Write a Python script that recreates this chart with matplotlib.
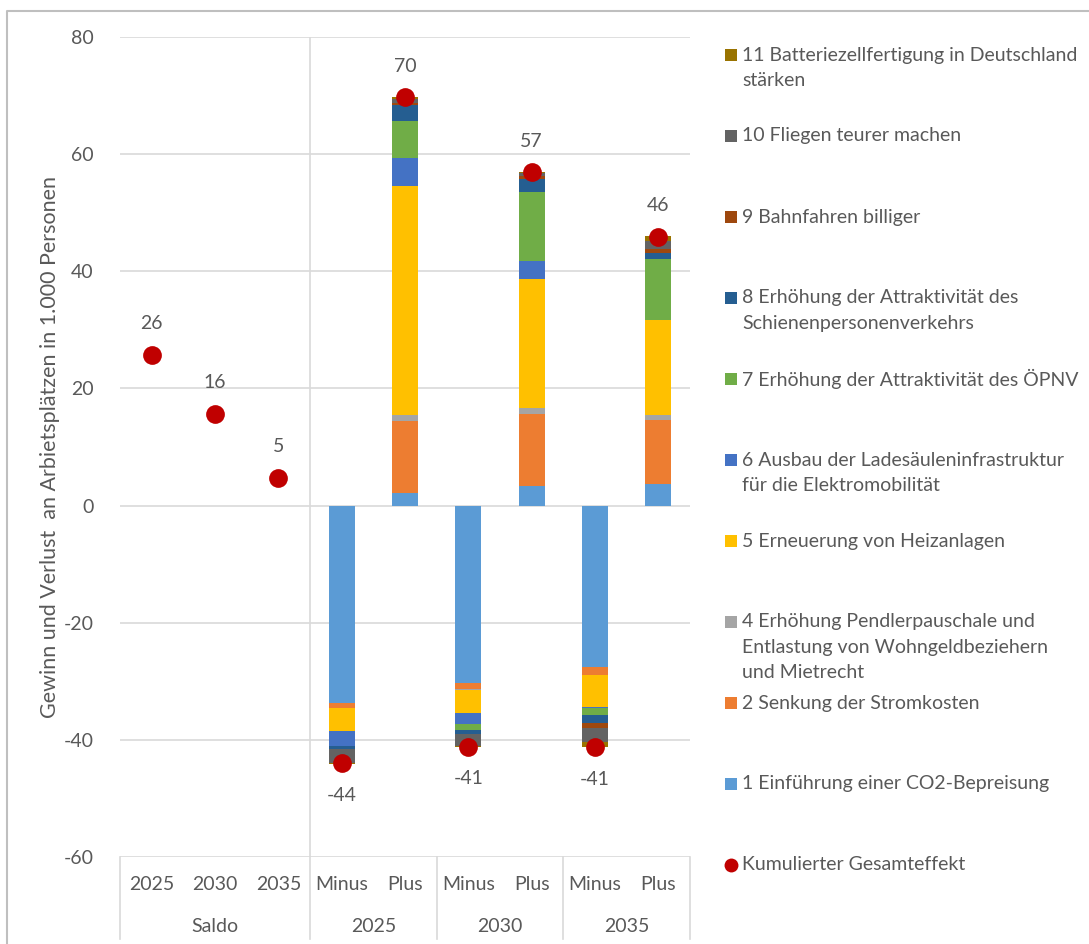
import matplotlib
matplotlib.use("Agg")
import matplotlib.pyplot as plt
from matplotlib.patches import Rectangle
from matplotlib.lines import Line2D
import numpy as np

# ---------------- data ----------------
categories = ["2025", "2030", "2035", "Minus", "Plus", "Minus", "Plus", "Minus", "Plus"]
groups = ["Saldo", "2025", "2030", "2035"]
group_spans = [(0, 3), (3, 5), (5, 7), (7, 9)]

s1 = [0, 0, 0, -33.7, 2.2, -30.3, 3.4, -27.6, 3.75]
s2 = [0, 0, 0, -0.8, 12.2, -1.1, 12.2, -1.25, 10.9]
s4 = [0, 0, 0, -0.1, 1.0, -0.05, 1.0, -0.1, 0.8]
s5 = [0, 0, 0, -3.9, 39.2, -4.0, 22.1, -5.4, 16.3]
s6 = [0, 0, 0, -2.6, 4.7, -1.8, 3.1, -0.15, 0.0]
s7 = [0, 0, 0, 0.0, 6.4, -1.0, 11.8, -1.2, 10.35]
s8 = [0, 0, 0, -0.45, 2.7, -0.7, 2.2, -1.35, 1.0]
s9 = [0, 0, 0, -0.05, 0.4, -0.05, 0.4, -0.95, 0.74]
s10 = [0, 0, 0, -2.3, 0.7, -2.1, 0.5, -2.3, 1.4]
s11 = [0, 0, 0, -0.15, 0.2, -0.1, 0.2, -0.85, 0.7]

gesamt = [25.7, 15.6, 4.7, -44.0, 69.7, -41.2, 56.9, -41.3, 45.9]

series_values = [s1, s2, s4, s5, s6, s7, s8, s9, s10, s11]
series_names = [
    "1 Einführung einer CO2-Bepreisung",
    "2 Senkung der Stromkosten",
    "4 Erhöhung Pendlerpauschale und\nEntlastung von Wohngeldbeziehern\nund Mietrecht",
    "5 Erneuerung von Heizanlagen",
    "6 Ausbau der Ladesäuleninfrastruktur\nfür die Elektromobilität",
    "7 Erhöhung der Attraktivität des ÖPNV",
    "8 Erhöhung der Attraktivität des\nSchienenpersonenverkehrs",
    "9 Bahnfahren billiger",
    "10 Fliegen teurer machen",
    "11 Batteriezellfertigung in Deutschland\nstärken",
]
gesamt_name = "Kumulierter Gesamteffekt"
series_colors = ["#5B9BD5", "#ED7D31", "#A5A5A5", "#FFC000", "#4472C4",
                 "#70AD47", "#255E91", "#9E480E", "#636363", "#997300"]
dot_color = "#C00000"

yticks = [-60, -40, -20, 0, 20, 40, 60, 80]
ylabel = "Gewinn und Verlust  an Arbietsplätzen in 1.000 Personen"

# ---------------- style ----------------
FONT = ["Lato", "DejaVu Sans"]
plt.rcParams["font.family"] = FONT
plt.rcParams["axes.unicode_minus"] = False
TXT = "#595959"
GRID = "#D9D9D9"
FS = 14

W, H = 1089, 944
fig = plt.figure(figsize=(W / 100, H / 100), dpi=100)
fig.patch.set_facecolor("white")

def fx(px):
    return px / W

def fy(py):
    return 1 - py / H

ax = fig.add_axes([fx(120), fy(857), fx(690) - fx(120), fy(37) - fy(857)])
ax.set_facecolor("white")
ax.set_xlim(-0.5, 8.5)
ax.set_ylim(-60, 80)
for sp in ax.spines.values():
    sp.set_visible(False)

x = np.arange(len(categories))
pos_bottom = np.zeros(len(categories))
neg_bottom = np.zeros(len(categories))
bw = 0.41
for vals, col in zip(series_values, series_colors):
    v = np.array(vals, dtype=float)
    bottom = np.where(v >= 0, pos_bottom, neg_bottom)
    ax.bar(x, v, bw, bottom=bottom, color=col, zorder=3, linewidth=0)
    pos_bottom += np.where(v >= 0, v, 0)
    neg_bottom += np.where(v < 0, v, 0)

ax.plot(x, gesamt, linestyle="none", marker="o", markersize=13.5,
        color=dot_color, markeredgewidth=0, zorder=5)
for xi, g in zip(x, gesamt):
    off = 22.5 if g >= 0 else -23
    ax.annotate(f"{round(g):d}", (xi, g), xytext=(0, off), textcoords="offset points",
                ha="center", va="center", fontsize=FS, color=TXT, zorder=6)

# grid
ax.set_yticks(yticks)
ax.yaxis.grid(True, color=GRID, linewidth=1.2, zorder=0)
ax.tick_params(axis="y", length=0, pad=19, labelsize=FS, labelcolor=TXT)
ax.set_xticks([])
ax.axvline(2.5, color=GRID, linewidth=1.2, zorder=0)

# category axis (two level)
trans = ax.get_xaxis_transform()
ax_h_px = 857 - 37
def ay(py):
    return (857 - py) / ax_h_px

for xi, c in zip(x, categories):
    ax.text(xi, ay(885), c, transform=trans, ha="center", va="center",
            fontsize=FS, color=TXT, clip_on=False)
for g, (a, b) in zip(groups, group_spans):
    ax.text((a + b - 1) / 2, ay(926), g, transform=trans, ha="center", va="center",
            fontsize=FS, color=TXT, clip_on=False)
for bnd in [-0.5, 2.5, 4.5, 6.5, 8.5]:
    ax.add_line(Line2D([bnd, bnd], [0, ay(939)], transform=trans, color=GRID,
                       linewidth=1.2, clip_on=False))

fig.text(fx(50), fy(447), ylabel, rotation=90, ha="center", va="center",
         fontsize=15.5, color=TXT)

# legend (manual, top to bottom)
leg_names = list(reversed(series_names)) + [gesamt_name]
leg_colors = list(reversed(series_colors)) + [dot_color]
y0 = 55
step = 81
line_step = 25.5
for i, (nm, col) in enumerate(zip(leg_names, leg_colors)):
    yc = y0 + i * step
    if i < len(leg_names) - 1:
        fig.patches.append(Rectangle((fx(725), fy(yc + 6)), fx(12), fy(yc - 6) - fy(yc + 6),
                                     transform=fig.transFigure, color=col, linewidth=0))
    else:
        fig.lines.append(Line2D([fx(731)], [fy(yc)], transform=fig.transFigure,
                                marker="o", markersize=10, color=col, markeredgewidth=0))
    for k, ln in enumerate(nm.split("\n")):
        fig.text(fx(742), fy(yc + k * line_step), ln, ha="left", va="center",
                 fontsize=FS, color=TXT)

# outer border
fig.lines.append(Line2D([fx(7), fx(7), fx(1100)], [fy(944), fy(11), fy(11)],
                        transform=fig.transFigure, color="#BFBFBF", linewidth=1.5))

fig.savefig("out.png", dpi=100)
